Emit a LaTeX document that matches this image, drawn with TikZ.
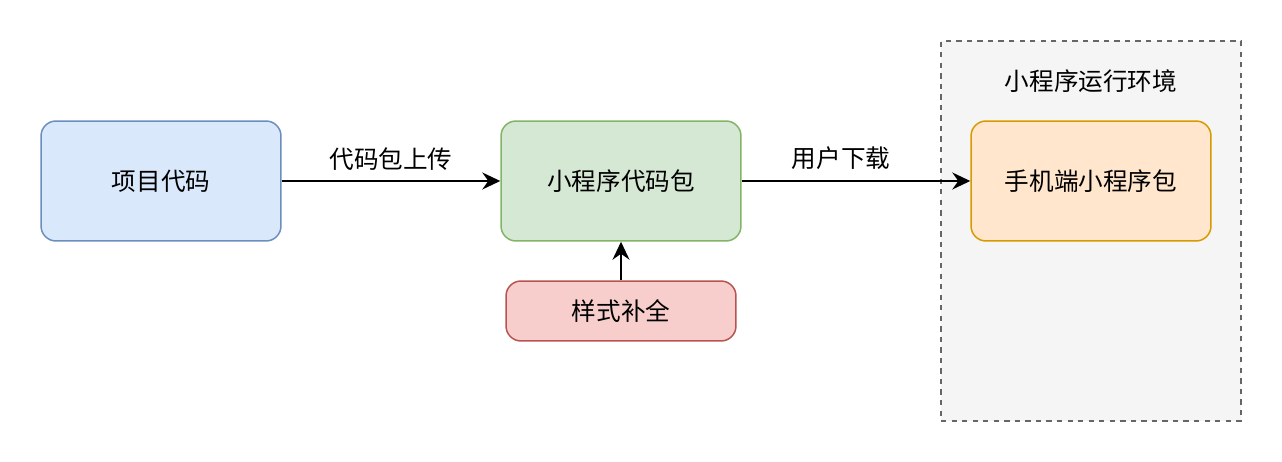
\documentclass[tikz,border=0pt]{standalone}
\usepackage{fontspec}
\setmainfont{Noto Sans CJK SC}
\usetikzlibrary{arrows.meta}
\definecolor{blueFill}{HTML}{DAE8FC}
\definecolor{blueLine}{HTML}{6C8EBF}
\definecolor{greenFill}{HTML}{D5E8D4}
\definecolor{greenLine}{HTML}{82B366}
\definecolor{redFill}{HTML}{F8CECC}
\definecolor{redLine}{HTML}{B85450}
\definecolor{orangeFill}{HTML}{FFE6CC}
\definecolor{orangeLine}{HTML}{D79B00}
\definecolor{envFill}{HTML}{F5F5F5}
\definecolor{envLine}{HTML}{666666}

\begin{document}
\begin{tikzpicture}[x=0.02cm,y=-0.02cm,
    box/.style ={rectangle, rounded corners=0.3cm, line width=0.85pt, draw,
      minimum width=4.8cm, minimum height=2.4cm, inner sep=0pt, font=\fontsize{14}{17}\selectfont},
    envbox/.style ={rectangle, dashed, line width=0.85pt, draw=envLine, fill=envFill,
      minimum width=6cm, minimum height=7.6cm, inner sep=0pt},
    link/.style ={-{Stealth[length=3.6mm,width=3.4mm,inset=1.2mm]}, line width=1.1pt},
    tag/.style ={font=\fontsize{14}{17}\selectfont, inner sep=0pt}]
   \useasboundingbox (0,0) rectangle (1282,462);
   \node[envbox] (env) at (1091,231) {};
   \node[tag] (envlabel) at (1091,81) {小程序运行环境};
   \node[box, fill=blueFill, draw=blueLine] (code) at (161,181) {项目代码};
   \node[box, fill=greenFill, draw=greenLine] (pkg) at (621,181) {小程序代码包};
   \node[box, fill=redFill, draw=redLine, minimum width=4.6cm, minimum height=1.2cm] (fix) at (621,311) {样式补全};
   \node[box, fill=orangeFill, draw=orangeLine] (phone) at (1091,181) {手机端小程序包};
   \draw[link] (code) -- node[tag, above=0.2cm] {代码包上传} (pkg);
   \draw[link] (pkg) -- node[tag, above=0.2cm, xshift=-0.3cm] {用户下载} (phone);
   \draw[link] (fix) -- (pkg);
 \end{tikzpicture}
\end{document}
